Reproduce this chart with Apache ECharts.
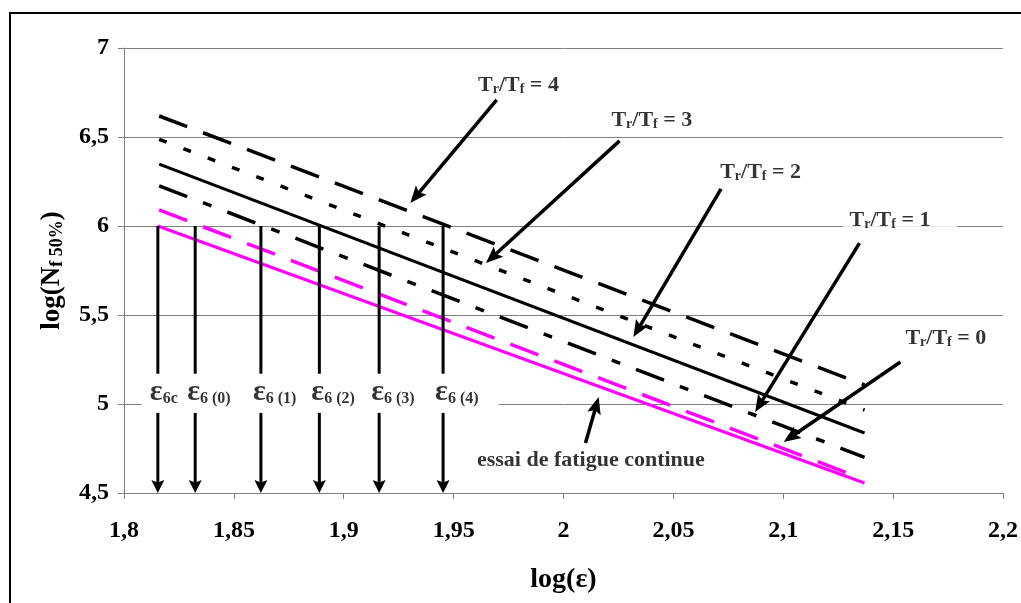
<!DOCTYPE html>
<html>
<head>
<meta charset="utf-8">
<script src="https://cdn.jsdelivr.net/npm/echarts@6/dist/echarts.min.js"></script>
<style>
  html, body { margin: 0; padding: 0; background: #fff; }
  #chart { width: 1021px; height: 603px; }
</style>
</head>
<body>
<div id="chart"></div>
<script>
// ---- data ---------------------------------------------------------------
const xTickLabels = ['1,8', '1,85', '1,9', '1,95', '2', '2,05', '2,1', '2,15', '2,2'];
const yTickLabels = ['4,5', '5', '5,5', '6', '6,5', '7'];

// Fatigue lines log(N f50%) vs log(eps): [log(eps), log(N)]
const continuousTest = [[1.8154, 6.000], [2.137, 4.556]];
const ratio0 = [[1.816, 6.090], [2.134, 4.590]];
const ratio1 = [[1.816, 6.226], [2.137, 4.700]];
const ratio2 = [[1.816, 6.348], [2.137, 4.837]];
const ratio3 = [[1.816, 6.487], [2.137, 4.966]];
const ratio4 = [[1.816, 6.618], [2.137, 5.107]];

// eps6 values (strain at 10^6 cycles) for each rest/load ratio
const eps6X = [1.8154, 1.8324, 1.8623, 1.8889, 1.9161, 1.9452];
const eps6Sub = ['6c', '6 (0)', '6 (1)', '6 (2)', '6 (3)', '6 (4)'];
const eps6From = 6.0;        // log N at which eps6 is read
const eps6To = 4.5;          // arrow down to the x axis
const eps6Gap = [5.17, 4.95]; // break in the arrows for the label row
const eps6LabelY = 5.06;

// callouts: text anchor (left edge, middle) and arrow [x1, y1, x2, y2]
const ratioValues = ['4', '3', '2', '1', '0'];
const ratioAnchors = [[1.9611, 6.792], [2.0218, 6.596], [2.0713, 6.303], [2.1302, 6.034], [2.1556, 5.371]];
const ratioArrows = [
  [1.9696, 6.708, 1.9303, 6.129],
  [2.0255, 6.478, 1.9647, 5.792],
  [2.0717, 6.208, 2.0318, 5.376],
  [2.1347, 5.904, 2.0872, 4.955],
  [2.1533, 5.236, 2.1002, 4.787]
];
const continuousAnchor = [1.9606, 4.685];
const continuousArrow = [2.010, 4.781, 2.016, 5.039];

// ---- styles -------------------------------------------------------------
const FONT = 'Liberation Serif';
const MAGENTA = '#ff00ff';
const GRID_GRAY = '#808080';

function arrowRenderer(lineWidth, headLen, headWidth) {
  return function (params, api) {
    const p = api.coord([api.value(0), api.value(1)]);
    const q = api.coord([api.value(2), api.value(3)]);
    const withHead = api.value(4) === 1;
    const dx = q[0] - p[0], dy = q[1] - p[1];
    const len = Math.hypot(dx, dy) || 1;
    const ux = dx / len, uy = dy / len;
    const nx = -uy, ny = ux;
    const end = withHead ? [q[0] - ux * headLen * 0.7, q[1] - uy * headLen * 0.7] : q;
    const children = [{
      type: 'line',
      shape: { x1: p[0], y1: p[1], x2: end[0], y2: end[1] },
      style: { stroke: '#000', lineWidth: lineWidth }
    }];
    if (withHead) {
      const bx = q[0] - ux * headLen, by = q[1] - uy * headLen;
      children.push({
        type: 'polygon',
        shape: {
          points: [
            [q[0], q[1]],
            [bx + nx * headWidth / 2, by + ny * headWidth / 2],
            [q[0] - ux * headLen * 0.8, q[1] - uy * headLen * 0.8],
            [bx - nx * headWidth / 2, by - ny * headWidth / 2]
          ]
        },
        style: { fill: '#000' }
      });
    }
    return { type: 'group', children: children };
  };
}

// arrow items: [x1, y1, x2, y2, hasHead]
const eps6ArrowData = [];
eps6X.forEach(function (x) {
  eps6ArrowData.push([x, eps6From, x, eps6Gap[0], 0]);
  eps6ArrowData.push([x, eps6Gap[1], x, eps6To, 1]);
});
const calloutArrowData = ratioArrows.concat([continuousArrow]).map(function (a) { return a.concat([1]); });

const subRich = {
  m: { fontFamily: FONT, fontWeight: 'bold', fontSize: 22, lineHeight: 22, verticalAlign: 'bottom', color: '#000' },
  s: { fontFamily: FONT, fontWeight: 'bold', fontSize: 14, lineHeight: 12, verticalAlign: 'bottom', color: '#000' }
};

const calloutData = ratioValues.map(function (v, i) {
  return {
    value: ratioAnchors[i],
    label: { formatter: '{m|T}{s|r}{m|/T}{s|f}{m| = ' + v + '}' }
  };
});
calloutData.push({ value: continuousAnchor, label: { formatter: '{m|essai de fatigue continue}', backgroundColor: 'transparent' } });

const eps6LabelData = eps6X.map(function (x, i) {
  return { value: [x, eps6LabelY], label: { formatter: '{e|ε}{s|' + eps6Sub[i] + '}' } };
});

const lineSeries = function (name, data, color, width, dash) {
  return {
    name: name, type: 'line', data: data, showSymbol: false, symbol: 'none',
    lineStyle: { color: color, width: width, type: dash || 'solid', cap: 'butt' },
    z: 3, silent: true, animation: false
  };
};

const chart = echarts.init(document.getElementById('chart'), null, { renderer: 'canvas' });
chart.setOption({
  backgroundColor: '#fff',
  animation: false,
  grid: { left: 124, right: 15, top: 48, bottom: 110, containLabel: false },
  xAxis: {
    type: 'value', min: 1.8, max: 2.2, interval: 0.05,
    name: 'log(ε)', nameLocation: 'middle', nameGap: 73,
    nameTextStyle: { fontFamily: FONT, fontWeight: 'bold', fontSize: 28, color: '#000' },
    axisLine: { show: true, lineStyle: { color: GRID_GRAY, width: 1 } },
    axisTick: { show: true, inside: false, length: 6, lineStyle: { color: GRID_GRAY } },
    axisLabel: {
      margin: 26, fontFamily: FONT, fontWeight: 'bold', fontSize: 24, color: '#000',
      formatter: function (v, i) { return xTickLabels[i]; }
    },
    splitLine: { show: false }
  },
  yAxis: {
    type: 'value', min: 4.5, max: 7, interval: 0.5,
    name: '{m|log(N}{s|f 50%}{m|)}', nameLocation: 'middle', nameGap: 58, nameRotate: 90,
    nameTextStyle: {
      rich: {
        m: { fontFamily: FONT, fontWeight: 'bold', fontSize: 27, lineHeight: 27, verticalAlign: 'bottom', color: '#000' },
        s: { fontFamily: FONT, fontWeight: 'bold', fontSize: 18, lineHeight: 16, verticalAlign: 'bottom', color: '#000' }
      }
    },
    axisLine: { show: true, lineStyle: { color: GRID_GRAY, width: 1 } },
    axisTick: { show: true, inside: false, length: 6, lineStyle: { color: GRID_GRAY } },
    axisLabel: {
      margin: 15, fontFamily: FONT, fontWeight: 'bold', fontSize: 24, color: '#000',
      formatter: function (v, i) { return yTickLabels[i]; }
    },
    splitLine: { show: true, lineStyle: { color: GRID_GRAY, width: 1 } }
  },
  graphic: [{
    type: 'rect', position: [10, 13], shape: { x: 0, y: 0, width: 1100, height: 700 },
    style: { fill: 'none', stroke: '#000', lineWidth: 2 }, silent: true
  }],
  series: [
    // white band behind the eps6 label row
    {
      type: 'line', data: [], silent: true, z: 1,
      markArea: {
        silent: true,
        itemStyle: { color: '#fff' },
        data: [[{ coord: [1.808, eps6Gap[0]] }, { coord: [1.9707, eps6Gap[1]] }]]
      }
    },
    lineSeries('essai de fatigue continue', continuousTest, MAGENTA, 3),
    lineSeries('Tr/Tf = 0', ratio0, MAGENTA, 3.5, [30, 17]),
    lineSeries('Tr/Tf = 1', ratio1, '#000', 3.5, [30, 17, 9, 17]),
    lineSeries('Tr/Tf = 2', ratio2, '#000', 3),
    lineSeries('Tr/Tf = 3', ratio3, '#000', 3.5, [8, 18]),
    lineSeries('Tr/Tf = 4', ratio4, '#000', 3.5, [30, 17]),
    {
      type: 'custom', coordinateSystem: 'cartesian2d', z: 4, silent: true,
      renderItem: arrowRenderer(3, 13, 13),
      encode: { x: [0, 2], y: [1, 3] },
      data: eps6ArrowData
    },
    {
      type: 'custom', coordinateSystem: 'cartesian2d', z: 6, silent: true,
      renderItem: arrowRenderer(3.5, 17, 14),
      encode: { x: [0, 2], y: [1, 3] },
      data: calloutArrowData
    },
    {
      type: 'scatter', symbolSize: 0, z: 5, silent: true,
      data: calloutData,
      label: {
        show: true, position: 'inside', align: 'left', offset: [-7, 0],
        backgroundColor: '#fff', padding: [2, 27, 2, 7],
        rich: subRich
      }
    },
    {
      type: 'scatter', symbolSize: 0, z: 5, silent: true,
      data: eps6LabelData,
      label: {
        show: true, position: 'inside', align: 'left', offset: [-8, 0],
        rich: {
          e: { fontFamily: FONT, fontWeight: 'bold', fontSize: 30, lineHeight: 28, verticalAlign: 'bottom', color: '#000' },
          s: { fontFamily: FONT, fontWeight: 'bold', fontSize: 16, lineHeight: 12, verticalAlign: 'bottom', color: '#000' }
        }
      }
    }
  ]
});
</script>
</body>
</html>
